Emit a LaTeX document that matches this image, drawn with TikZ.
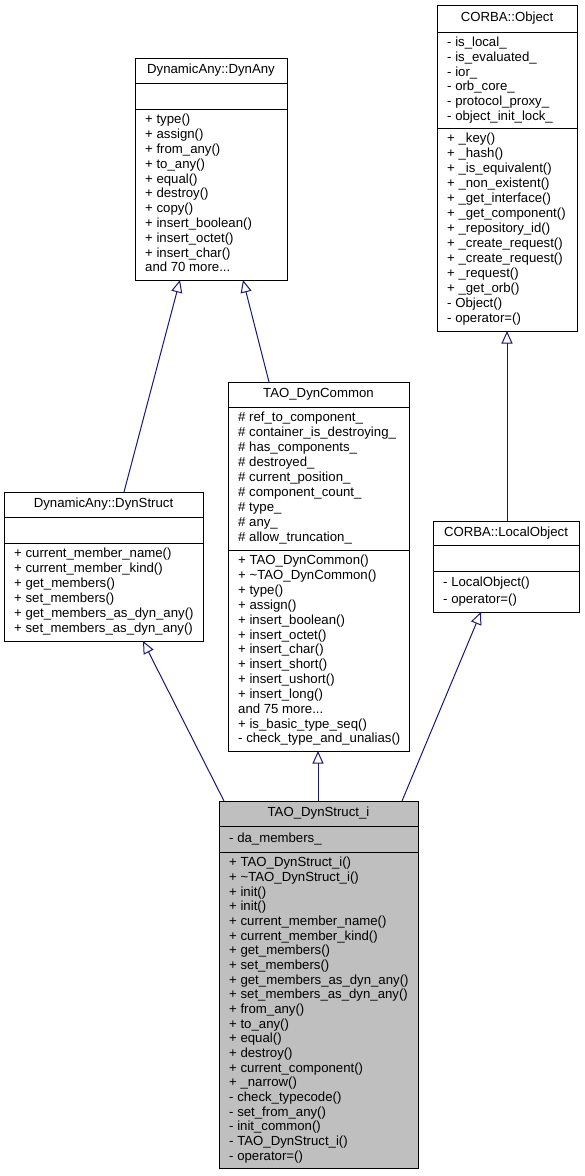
\documentclass[tikz,border=0pt]{standalone}
\usepackage{fontspec}
\setmainfont{Liberation Sans}
\usetikzlibrary{arrows.meta}
\definecolor{edgeblue}{RGB}{25,25,112}
\definecolor{hilite}{RGB}{191,191,191}
\newcommand\tdots{...}
\tikzset{
  boxshape/.style={draw=black, line width=1pt, inner sep=0pt, outer sep=0pt, rectangle},
  sepline/.style={draw=black, line width=1pt},
  rowtext/.style={inner sep=0pt, font=\fontsize{13.2}{15}\selectfont, text height=9.6pt, text depth=2.8pt},
  inh/.style={draw=edgeblue, line width=1pt, -{Triangle[open, length=12.5pt, width=11pt, line width=1pt]}}
}
% #1 name, #2 x1, #3 x2, #4 top, #5 header sep, #6 attr sep, #7 bottom, #8 fill, #9 header text
\newcommand\classbox[9]{%
  \node[boxshape, fill=#8, anchor=north west, minimum width={#3pt-#2pt}, minimum height={#7pt-#4pt}] (#1) at (#2,#4) {};
  \draw[sepline] (#2,#5) -- (#3,#5);
  \draw[sepline] (#2,#6) -- (#3,#6);
  \node[rowtext] (#1-h) at ({(#2+#3)/2},{(#4+#5)/2}) {#9};
}
% #1 prefix, #2 x, #3 top, #4 bottom, #5 n, #6 list
\newcommand\classrows[6]{%
  \pgfmathsetmacro\rsp{(#4-#3-8)/#5}%
  \foreach \t [count=\i] in {#6} {
    \node[rowtext, anchor=west] (#1-\i) at (#2, {#3+4+(\i-0.5)*\rsp}) {\t};
  }
}
\begin{document}
\begin{tikzpicture}[x=1pt,y=-1pt]
\useasboundingbox (0,0) rectangle (585,1176);

% DynamicAny::DynAny
\classbox{dynany}{135}{287}{58}{83}{109}{280}{white}{DynamicAny::DynAny}
\classrows{dynanym}{145}{109}{280}{11}{+ type(),+ assign(),+ from\_any(),+ to\_any(),+ equal(),+ destroy(),+ copy(),+ insert\_boolean(),+ insert\_octet(),+ insert\_char(),and 70 more\tdots}

% CORBA::Object
\classbox{cobj}{437}{577}{5}{32}{128}{331}{white}{CORBA::Object}
\classrows{cobja}{447}{32}{128}{6}{- is\_local\_,- is\_evaluated\_,- ior\_,- orb\_core\_,- protocol\_proxy\_,- object\_init\_lock\_}
\classrows{cobjm}{447}{128}{331}{13}{+ \_key(),+ \_hash(),+ \_is\_equivalent(),+ \_non\_existent(),+ \_get\_interface(),+ \_get\_component(),+ \_repository\_id(),+ \_create\_request(),+ \_create\_request(),+ \_request(),+ \_get\_orb(),- Object(),- operator=()}

% TAO_DynCommon
\classbox{dyncommon}{228}{409}{382}{407}{550}{751}{white}{TAO\_DynCommon}
\classrows{dyncommona}{238}{407}{550}{9}{\# ref\_to\_component\_,\# container\_is\_destroying\_,\# has\_components\_,\# destroyed\_,\# current\_position\_,\# component\_count\_,\# type\_,\# any\_,\# allow\_truncation\_}
\classrows{dyncommonm}{238}{550}{751}{13}{+ TAO\_DynCommon(),+ \textasciitilde TAO\_DynCommon(),+ type(),+ assign(),+ insert\_boolean(),+ insert\_octet(),+ insert\_char(),+ insert\_short(),+ insert\_ushort(),+ insert\_long(),and 75 more\tdots,+ is\_basic\_type\_seq(),- check\_type\_and\_unalias()}

% DynamicAny::DynStruct
\classbox{dynstruct}{4}{203}{492}{517}{543}{641}{white}{DynamicAny::DynStruct}
\classrows{dynstructm}{14}{543}{641}{6}{+ current\_member\_name(),+ current\_member\_kind(),+ get\_members(),+ set\_members(),+ get\_members\_as\_dyn\_any(),+ set\_members\_as\_dyn\_any()}

% CORBA::LocalObject
\classbox{lobj}{433}{579}{521}{545}{571}{612}{white}{CORBA::LocalObject}
\classrows{lobjm}{443}{571}{612}{2}{- LocalObject(),- operator=()}

% TAO_DynStruct_i
\classbox{dsi}{219}{418}{801}{826}{852}{1168}{hilite}{TAO\_DynStruct\_i}
\classrows{dsia}{229}{826}{852}{1}{- da\_members\_}
\classrows{dsim}{229}{852}{1168}{21}{+ TAO\_DynStruct\_i(),+ \textasciitilde TAO\_DynStruct\_i(),+ init(),+ init(),+ current\_member\_name(),+ current\_member\_kind(),+ get\_members(),+ set\_members(),+ get\_members\_as\_dyn\_any(),+ set\_members\_as\_dyn\_any(),+ from\_any(),+ to\_any(),+ equal(),+ destroy(),+ current\_component(),+ \_narrow(),- check\_typecode(),- set\_from\_any(),- init\_common(),- TAO\_DynStruct\_i(),- operator=()}

% inheritance connectors
\draw[inh] ([xshift=120pt]dynstruct.north west) -- ([xshift=45pt]dynany.south west);
\draw[inh] ([xshift=41pt]dyncommon.north west) -- ([xshift=108pt]dynany.south west);
\draw[inh] ([xshift=74pt]lobj.north west) -- ([xshift=70pt]cobj.south west);
\draw[inh] ([xshift=5pt]dsi.north west) -- ([xshift=139pt]dynstruct.south west);
\draw[inh] ([xshift=99pt]dsi.north west) -- ([xshift=90pt]dyncommon.south west);
\draw[inh] ([xshift=183pt]dsi.north west) -- ([xshift=48pt]lobj.south west);
\end{tikzpicture}
\end{document}
